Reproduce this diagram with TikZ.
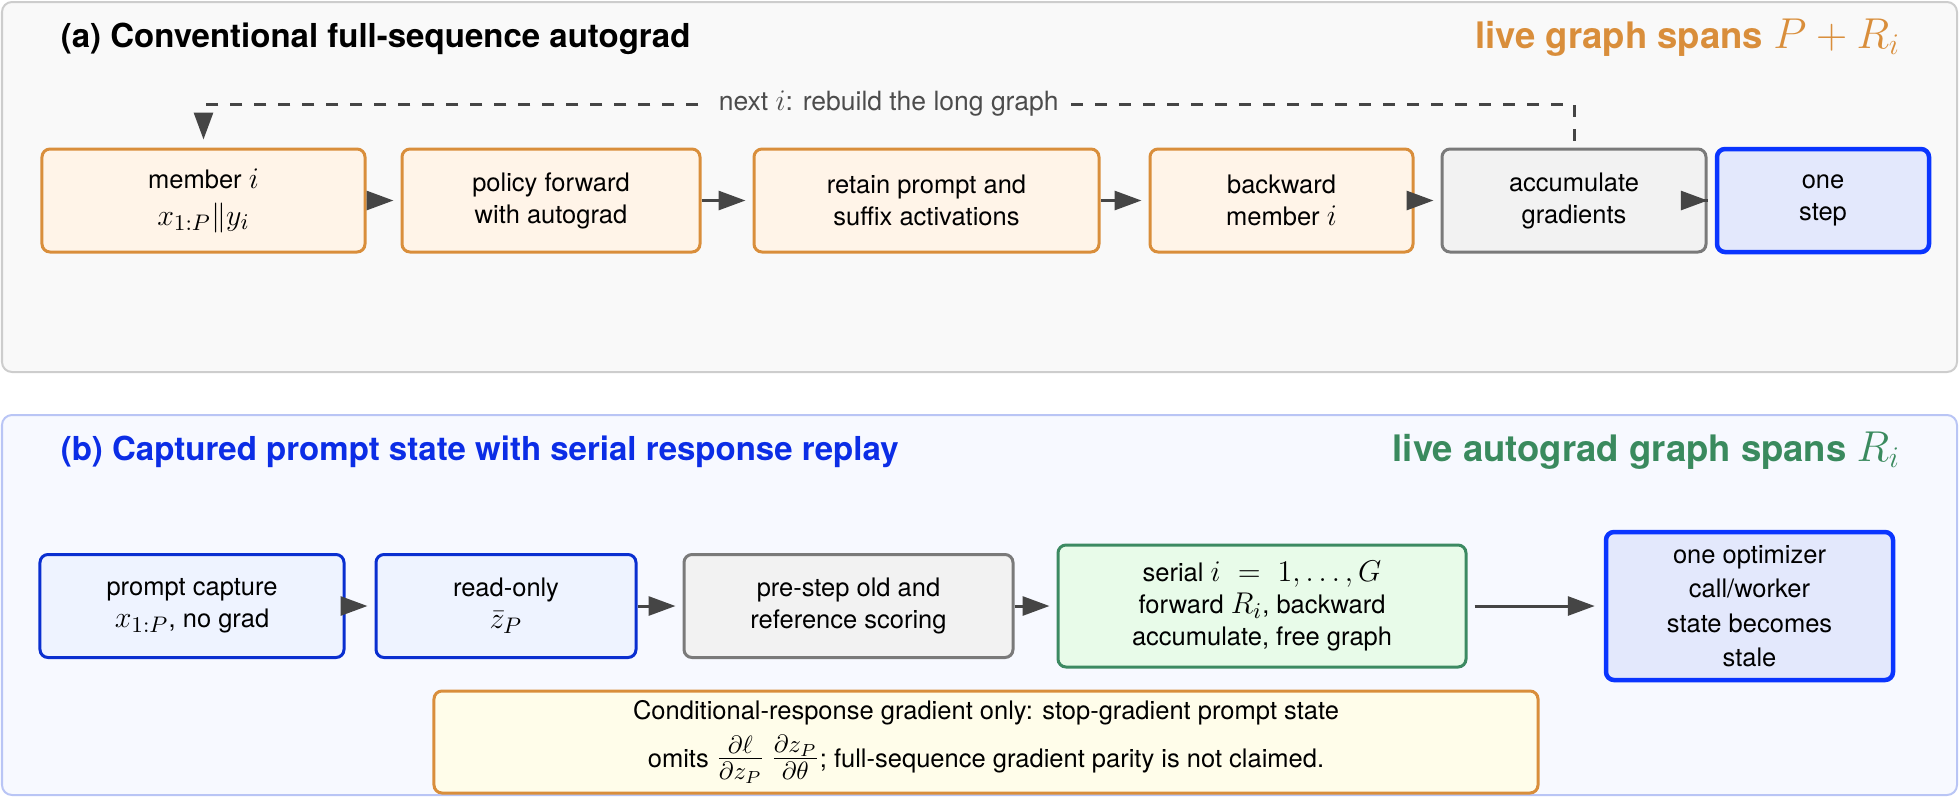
\documentclass[tikz,border=0pt]{standalone}
\usepackage{fontspec}
\setmainfont{TeX Gyre Heros}
\usepackage{amsmath}
\usetikzlibrary{arrows.meta}

\definecolor{panelgray}{HTML}{F9F9F9}
\definecolor{panelline}{HTML}{CDCDCD}
\definecolor{panelblue}{HTML}{F7F9FF}
\definecolor{panelblueline}{HTML}{B9C5F5}
\definecolor{orangeline}{HTML}{D98E3B}
\definecolor{orangefill}{HTML}{FFF4E8}
\definecolor{grayline}{HTML}{7A7A7A}
\definecolor{grayfill}{HTML}{F2F2F2}
\definecolor{blueline}{HTML}{0A2FD0}
\definecolor{bluefill}{HTML}{EEF3FF}
\definecolor{stepline}{HTML}{0A35FF}
\definecolor{stepfill}{HTML}{E3E8FC}
\definecolor{greenline}{HTML}{3C8A62}
\definecolor{greenfill}{HTML}{E8FBE9}
\definecolor{notefill}{HTML}{FFFDEA}
\definecolor{arrowgray}{HTML}{454545}
\definecolor{titleblue}{HTML}{0B2DE6}
\definecolor{titlegreen}{HTML}{3A8A5E}

\newcommand\boxfont{\fontsize{10.2}{12.8}\selectfont}
% math set a bit larger than the sans text around it
\newcommand\mth[2][12.6]{{\fontsize{#1}{12.8}\selectfont$#2$}}
\newcommand\PanelFrame[6]{%
    \draw[rounded corners=4pt,line width=0.8pt,draw=#3,fill=#2] (2,#1) rectangle (1957,#1+#4);
    \node[anchor=base west,font=\fontsize{13.2}{16}\selectfont\bfseries,text=#6] at (52,#1+45) {#5};
}

\tikzset{
    box/.style={draw,rounded corners=3.2pt,line width=1.2pt,align=center,inner sep=0pt,
        minimum height=41.2pt,font=\boxfont},
    orangebox/.style={box,draw=orangeline,fill=orangefill},
    graybox/.style={box,draw=grayline,fill=grayfill},
    bluebox/.style={box,draw=blueline,fill=bluefill},
    stepbox/.style={box,draw=stepline,fill=stepfill,line width=1.8pt},
    greenbox/.style={box,draw=greenline,fill=greenfill},
    flow/.style={-{Triangle[length=10.8pt,width=7.6pt]},line width=1.2pt,draw=arrowgray,shorten >=2.8pt},
    loopback/.style={flow,dash pattern=on 4.8pt off 4.8pt,shorten <=2.8pt,shorten >=3.2pt},
}

\begin{document}
\begin{tikzpicture}[x=0.4pt,y=-0.4pt]
    \useasboundingbox (0,0) rectangle (1960,796);

    % (a) full-sequence autograd
    \PanelFrame{2}{panelgray}{panelline}{370}{(a) Conventional full-sequence autograd}{black}
    \node[anchor=base east,font=\fontsize{14.6}{18}\selectfont\bfseries,text=orangeline] at (1909,48)
        {live graph spans \mth[18]{P+R_i}};
    \node[orangebox,minimum width=129.2pt] (A1) at (203.5,200.5) {member \mth{i}\\[2pt]\mth{x_{1:P}\|y_i}};
    \node[orangebox,minimum width=119.2pt] (A2) at (551,200.5) {policy forward\\with autograd};
    \node[orangebox,minimum width=138pt] (A3) at (926.5,200.5) {retain prompt and\\suffix activations};
    \node[orangebox,minimum width=105.2pt] (A4) at (1281.5,200.5) {backward\\member \mth{i}};
    \node[graybox,minimum width=105.6pt] (A5) at (1574,200.5) {accumulate\\gradients};
    \node[stepbox,minimum width=84.8pt] (A6) at (1823,200.5) {one\\step};
    \foreach \a/\b in {A1/A2,A2/A3,A3/A4,A4/A5,A5/A6}
        \draw[flow] (\a.east) -- (\b.west);
    \coordinate (loopy) at (0,104);
    \draw[loopback] (A5.north) -- (A5.north |- loopy)
        -- node[fill=panelgray,text=black!70,inner xsep=4pt,font=\fontsize{10.6}{12}\selectfont]
            {next \mth{i}: rebuild the long graph} (A1.north |- loopy) -- (A1.north);

    % (b) captured prompt state
    \PanelFrame{415}{panelblue}{panelblueline}{380}{(b) Captured prompt state with serial response replay}{titleblue}
    \node[anchor=base east,font=\fontsize{14.6}{18}\selectfont\bfseries,text=titlegreen] at (1909,461)
        {live autograd graph spans \mth[18]{R_i}};
    \node[bluebox,minimum width=121.6pt] (B1) at (192,606) {prompt capture\\\mth{x_{1:P}}, no grad};
    \node[bluebox,minimum width=104pt] (B2) at (506,606) {read-only\\\mth{\bar z_P}};
    \node[graybox,minimum width=131.6pt] (B3) at (848.5,606) {pre-step old and\\reference scoring};
    \node[greenbox,minimum width=163.2pt,minimum height=48.8pt] (B4) at (1262,606)
        {serial \mth{i\ =\ 1,\ldots,G}\\forward \mth{R_i}, backward\\accumulate, free graph};
    \node[stepbox,minimum width=114.8pt,minimum height=59.2pt] (B5) at (1749.5,606)
        {one optimizer\\[1pt]call/worker\\[1pt]state becomes\\[1pt]stale};
    \node[box,draw=orangeline,fill=notefill,minimum width=441.6pt,minimum height=40.8pt] (note) at (986,742)
        {Conditional-response gradient only: stop-gradient prompt state\\[3pt]
         omits \mth[14.5]{\frac{\partial\ell}{\partial z_P}\,\frac{\partial z_P}{\partial\theta}}; full-sequence gradient parity is not claimed.};
    \foreach \a/\b in {B1/B2,B2/B3,B3/B4}
        \draw[flow] (\a.east) -- (\b.west);
    \draw[flow,shorten <=2.8pt,shorten >=3.6pt] (B4.east) -- (B5.west);
\end{tikzpicture}
\end{document}
